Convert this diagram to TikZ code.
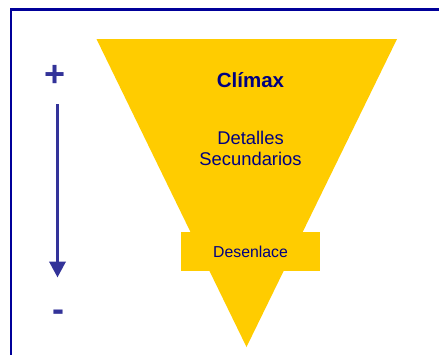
\documentclass[tikz,border=0pt]{standalone}
\usepackage{fontspec}
\setmainfont{Liberation Sans}
\usetikzlibrary{arrows.meta}
\definecolor{gold}{HTML}{FFCC00}
\definecolor{navytext}{HTML}{000080}
\definecolor{arrowblue}{HTML}{333399}
\definecolor{framenavy}{HTML}{000099}
\begin{document}
\begin{tikzpicture}[x=1pt,y=-1pt,
  lbl/.style={text=navytext, inner sep=0pt, align=center},
  sign/.style={text=arrowblue, inner sep=0pt, font=\fontsize{36}{36}\selectfont\bfseries}]
\useasboundingbox (0,0) rectangle (439,354);
\fill[white] (0,0) rectangle (439,354);
% frame
\draw[framenavy, line width=2.6pt] (11,360) -- (11,9.5) -- (445,9.5);
% funnel
\fill[gold] (96.5,39) -- (397,39) -- (246.5,347) -- cycle;
\node[fill=gold, minimum width=139pt, minimum height=39pt, inner sep=0pt] (des) at (250.5,251.5) {};
\node[lbl, font=\fontsize{15.8}{18}\selectfont] (destxt) at (des) {Desenlace};
\node[lbl, font=\fontsize{20.5}{24}\selectfont\bfseries] (clim) at (250.5,80) {Clímax};
\node[lbl, font=\fontsize{18.4}{21}\selectfont] (det) at (250.5,148) {Detalles\\Secundarios};
% signs and arrow
\node[sign] (plus) at (55.5,76) {+};
\node[sign] (minus) at (58,316) {-};
\coordinate (astart) at (57.5,104);
\coordinate (aend) at (57.5,277.5);
\draw[arrowblue, line width=3.6pt, -{Triangle[width=16pt,length=16pt]}] (astart) -- (aend);
\end{tikzpicture}
\end{document}
